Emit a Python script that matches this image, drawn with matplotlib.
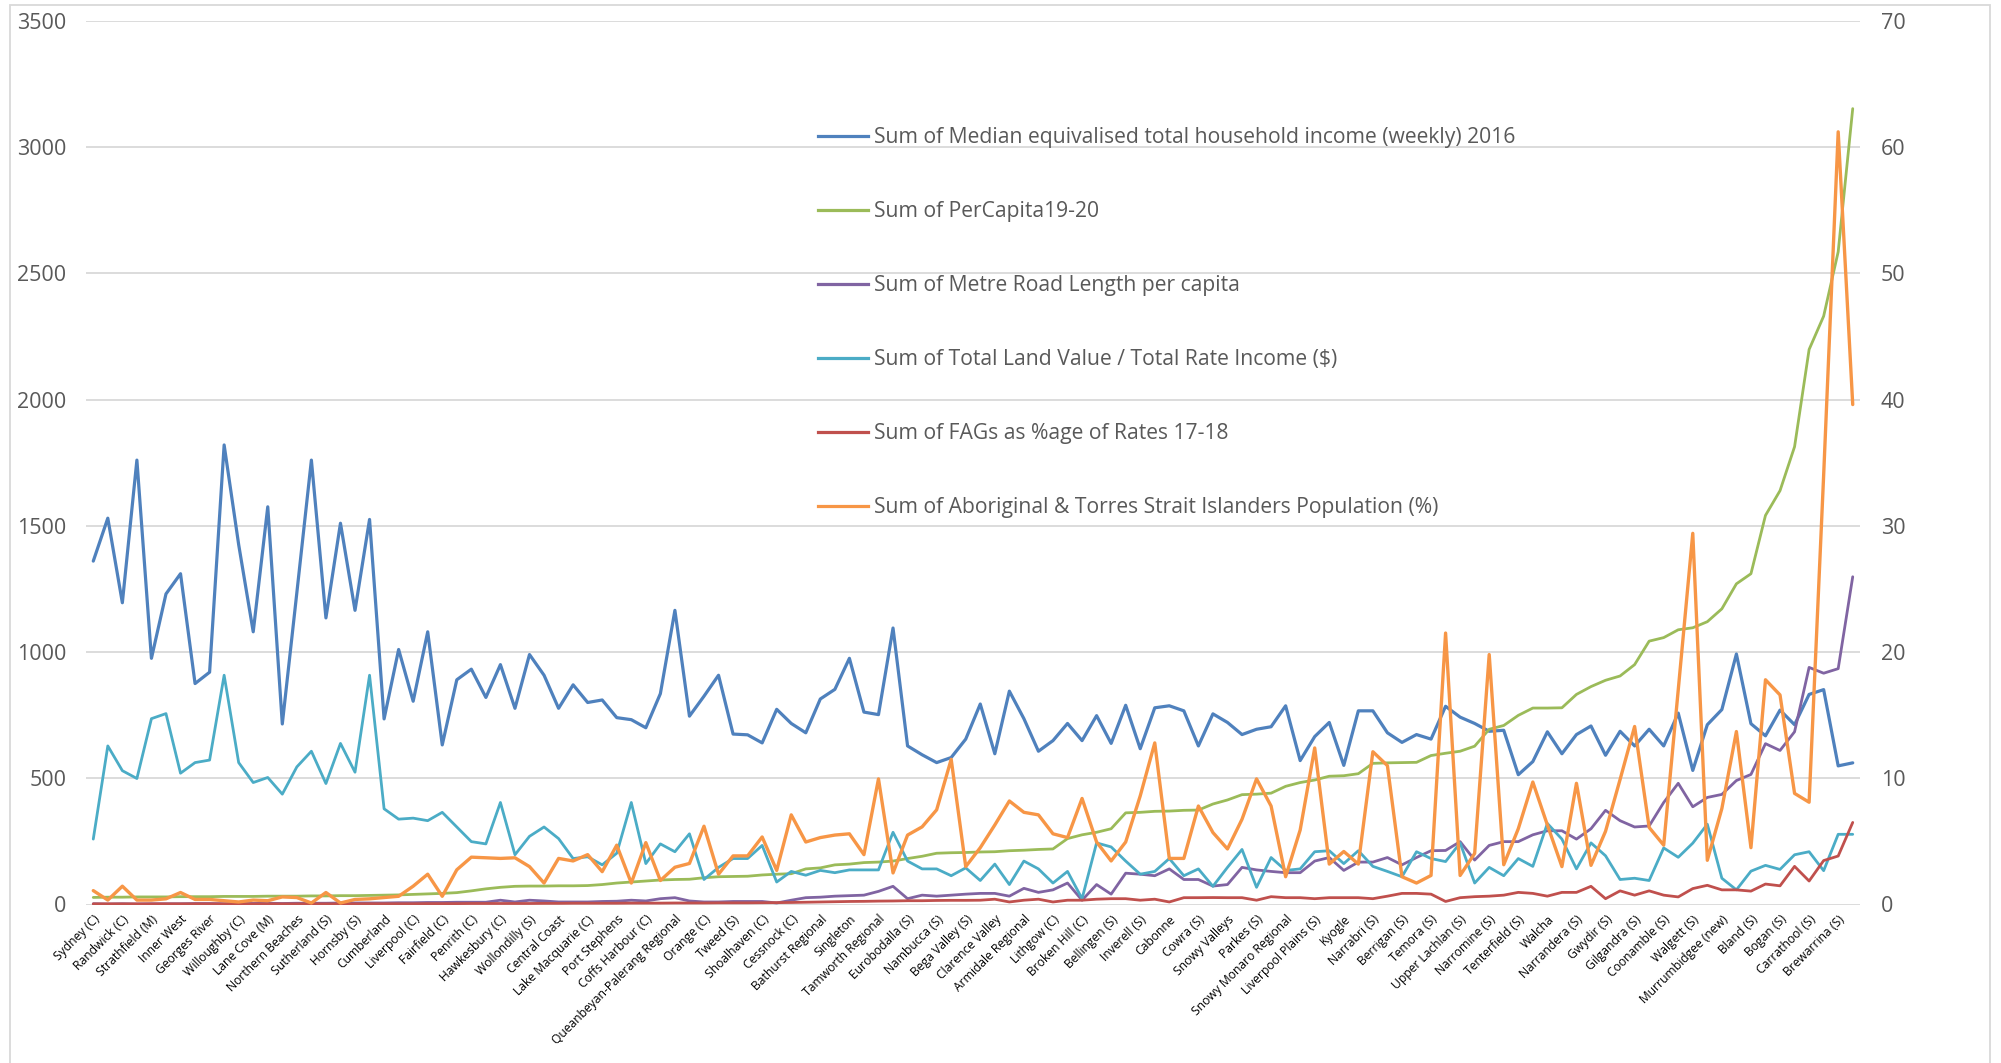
import numpy as np
import matplotlib
matplotlib.use("Agg")
import matplotlib.pyplot as plt
from matplotlib.lines import Line2D
from matplotlib.patches import Rectangle

plt.rcParams['font.family'] = ['Open Sans', 'DejaVu Sans']

# Councils labelled on the category axis (every second council is labelled)
council_labels = [
    "Sydney (C)", "Randwick (C)", "Strathfield (M)", "Inner West", "Georges River",
    "Willoughby (C)", "Lane Cove (M)", "Northern Beaches", "Sutherland (S)", "Hornsby (S)",
    "Cumberland", "Liverpool (C)", "Fairfield (C)", "Penrith (C)", "Hawkesbury (C)",
    "Wollondilly (S)", "Central Coast", "Lake Macquarie (C)", "Port Stephens",
    "Coffs Harbour (C)", "Queanbeyan-Palerang Regional", "Orange (C)", "Tweed (S)",
    "Shoalhaven (C)", "Cessnock (C)", "Bathurst Regional", "Singleton", "Tamworth Regional",
    "Eurobodalla (S)", "Nambucca (S)", "Bega Valley (S)", "Clarence Valley",
    "Armidale Regional", "Lithgow (C)", "Broken Hill (C)", "Bellingen (S)", "Inverell (S)",
    "Cabonne", "Cowra (S)", "Snowy Valleys", "Parkes (S)", "Snowy Monaro Regional",
    "Liverpool Plains (S)", "Kyogle", "Narrabri (S)", "Berrigan (S)", "Temora (S)",
    "Upper Lachlan (S)", "Narromine (S)", "Tenterfield (S)", "Walcha", "Narrandera (S)",
    "Gwydir (S)", "Gilgandra (S)", "Coonamble (S)", "Walgett (S)", "Murrumbidgee (new)",
    "Bland (S)", "Bogan (S)", "Carrathool (S)", "Brewarrina (S)",
]

# Primary axis series
median_income = [
    1360, 1530, 1195, 1760, 975, 1230, 1310, 875, 920, 1820,
    1425, 1080, 1575, 715, 1235, 1760, 1135, 1510, 1165, 1525,
    735, 1010, 805, 1080, 632, 890, 932, 820, 950, 777,
    990, 908, 777, 870, 800, 810, 740, 732, 700, 835,
    1165, 746, 825, 908, 675, 672, 640, 773, 717, 680,
    814, 852, 975, 762, 752, 1095, 628, 593, 562, 582,
    655, 794, 597, 845, 736, 607, 649, 717, 649, 748,
    638, 789, 617, 779, 787, 767, 628, 755, 721, 673,
    694, 704, 787, 570, 665, 721, 551, 767, 767, 680,
    642, 673, 655, 785, 742, 717, 686, 690, 514, 566,
    684, 597, 673, 707, 591, 686, 628, 694, 628, 758,
    531, 712, 772, 992, 716, 668, 770, 712, 832, 851,
    549, 561,
]

per_capita = [
    28, 29, 29, 30, 30, 30, 31, 31, 31, 32,
    32, 32, 33, 33, 33, 34, 34, 35, 35, 36,
    37, 38, 40, 42, 44, 47, 54, 62, 68, 72,
    73, 73, 74, 74, 75, 79, 85, 89, 93, 97,
    99, 100, 106, 110, 111, 112, 117, 120, 122, 141,
    145, 157, 160, 166, 168, 172, 182, 191, 203, 205,
    206, 208, 209, 213, 215, 218, 220, 261, 276, 286,
    300, 363, 365, 369, 370, 373, 374, 398, 414, 435,
    437, 441, 468, 483, 493, 508, 510, 518, 559, 561,
    562, 563, 590, 599, 607, 627, 694, 709, 749, 778,
    778, 779, 832, 863, 888, 905, 950, 1043, 1057, 1088,
    1096, 1120, 1171, 1270, 1310, 1541, 1639, 1813, 2198, 2330,
    2585, 3152,
]

road_length = [
    3, 2, 3, 2, 3, 3, 3, 4, 4, 3,
    4, 4, 5, 4, 5, 5, 5, 6, 6, 6,
    6, 7, 7, 8, 8, 9, 9, 9, 17, 10,
    17, 14, 10, 10, 10, 12, 13, 17, 14, 23,
    27, 14, 10, 10, 12, 12, 12, 6, 17, 27,
    29, 33, 35, 37, 52, 72, 23, 37, 33, 37,
    41, 44, 44, 33, 64, 48, 58, 85, 17, 79,
    41, 124, 120, 114, 141, 99, 99, 73, 79, 147,
    137, 131, 126, 126, 172, 186, 135, 168, 168, 186,
    157, 186, 213, 214, 249, 176, 234, 249, 249, 276,
    292, 292, 259, 300, 373, 332, 307, 311, 404, 480,
    387, 424, 436, 491, 515, 637, 610, 684, 939, 916,
    934, 1298,
]

land_value_ratio = [
    259, 628, 530, 499, 736, 756, 520, 562, 572, 908,
    562, 483, 503, 437, 545, 607, 479, 638, 524, 908,
    379, 338, 342, 332, 365, 307, 249, 240, 404, 197,
    270, 307, 261, 182, 189, 157, 203, 404, 162, 240,
    209, 280, 99, 147, 182, 182, 234, 89, 131, 116,
    135, 126, 137, 137, 137, 286, 172, 141, 141, 114,
    145, 95, 160, 79, 172, 141, 85, 131, 23, 244,
    228, 172, 120, 131, 182, 114, 141, 72, 147, 218,
    68, 186, 135, 141, 209, 213, 162, 213, 151, 131,
    110, 209, 182, 170, 244, 85, 147, 114, 182, 151,
    321, 259, 141, 244, 193, 99, 104, 95, 224, 187,
    243, 318, 104, 58, 132, 155, 139, 197, 209, 134,
    278, 278,
]

# Secondary axis series
fags_pct = [
    0.05, 0.05, 0.05, 0.05, 0.05, 0.05, 0.05, 0.05, 0.05, 0.05,
    0.05, 0.05, 0.05, 0.05, 0.05, 0.05, 0.05, 0.05, 0.05, 0.06,
    0.06, 0.06, 0.06, 0.07, 0.07, 0.07, 0.08, 0.08, 0.08, 0.08,
    0.08, 0.09, 0.09, 0.1, 0.1, 0.1, 0.1, 0.11, 0.11, 0.11,
    0.12, 0.12, 0.12, 0.13, 0.13, 0.13, 0.14, 0.15, 0.16, 0.18,
    0.2, 0.22, 0.24, 0.25, 0.27, 0.28, 0.3, 0.3, 0.32, 0.33,
    0.33, 0.34, 0.42, 0.2, 0.34, 0.42, 0.2, 0.34, 0.34, 0.42,
    0.46, 0.46, 0.34, 0.42, 0.2, 0.54, 0.54, 0.55, 0.54, 0.54,
    0.34, 0.62, 0.54, 0.54, 0.46, 0.54, 0.54, 0.54, 0.46, 0.66,
    0.88, 0.88, 0.82, 0.24, 0.54, 0.62, 0.66, 0.74, 0.96, 0.88,
    0.66, 0.96, 0.96, 1.44, 0.46, 1.08, 0.74, 1.08, 0.74, 0.6,
    1.26, 1.52, 1.16, 1.16, 1.06, 1.62, 1.48, 3.02, 1.86, 3.48,
    3.84, 6.5,
]

aboriginal_pct = [
    1.1, 0.35, 1.45, 0.35, 0.35, 0.45, 0.95, 0.4, 0.4, 0.3,
    0.2, 0.35, 0.3, 0.6, 0.55, 0.12, 0.95, 0.12, 0.4, 0.45,
    0.55, 0.65, 1.45, 2.4, 0.65, 2.75, 3.75, 3.7, 3.65, 3.7,
    3.0, 1.7, 3.65, 3.45, 3.95, 2.6, 4.7, 1.7, 4.9, 1.9,
    2.95, 3.25, 6.2, 2.4, 3.85, 3.85, 5.35, 2.7, 7.1, 4.95,
    5.3, 5.5, 5.6, 3.95, 9.95, 2.5, 5.5, 6.15, 7.5, 11.5,
    3.0, 4.5, 6.3, 8.2, 7.3, 7.1, 5.6, 5.3, 8.4, 4.95,
    3.45, 4.95, 8.6, 12.8, 3.65, 3.65, 7.8, 5.7, 4.4, 6.75,
    9.95, 7.8, 2.2, 5.9, 12.4, 3.2, 4.2, 3.2, 12.1, 11.0,
    2.2, 1.7, 2.3, 21.5, 2.3, 4.05, 19.8, 3.15, 6.0, 9.7,
    6.3, 3.0, 9.6, 3.1, 5.8, 9.9, 14.1, 6.1, 4.7, 17.0,
    29.4, 3.5, 7.6, 13.7, 4.5, 17.8, 16.6, 8.8, 8.1, 34.0,
    61.2, 39.6,
]

series_names = [
    "Sum of Median equivalised total household income (weekly) 2016",
    "Sum of PerCapita19-20",
    "Sum of Metre Road Length per capita",
    "Sum of Total Land Value / Total Rate Income ($)",
    "Sum of FAGs as %age of Rates 17-18",
    "Sum of Aboriginal & Torres Strait Islanders Population (%)",
]
c_blue, c_green, c_purple = "#4F81BD", "#9BBB59", "#8064A2"
c_cyan, c_red, c_orange = "#4BACC6", "#C0504D", "#F79646"
grid_c = "#D9D9D9"
tick_c = "#595959"

W, H = 2001, 1063
fig = plt.figure(figsize=(W / 100, H / 100), dpi=100)
ax = fig.add_axes([86 / W, 1 - 904.5 / H, (1860 - 86) / W, (904.5 - 20.75) / H])
ax2 = ax.twinx()

x = np.arange(len(median_income))
kw = dict(solid_joinstyle="round", solid_capstyle="round")
ax.plot(x, median_income, color=c_blue, lw=2.3, **kw)
ax.plot(x, per_capita, color=c_green, lw=2.0, **kw)
ax.plot(x, road_length, color=c_purple, lw=2.0, **kw)
ax.plot(x, land_value_ratio, color=c_cyan, lw=2.0, **kw)
ax2.plot(x, fags_pct, color=c_red, lw=2.0, **kw)
ax2.plot(x, aboriginal_pct, color=c_orange, lw=2.4, **kw)

ax.set_xlim(-0.5, len(x) - 0.5)
ax.set_ylim(0, 3500)
ax2.set_ylim(0, 70)
ax.set_yticks(np.arange(0, 3501, 500))
ax2.set_yticks(np.arange(0, 71, 10))
ax.grid(axis="y", color=grid_c, lw=1.3)
ax.set_axisbelow(True)

for a in (ax, ax2):
    for s in a.spines.values():
        s.set_visible(False)
ax.tick_params(axis="y", length=0, pad=14, labelsize=15.5, labelcolor=tick_c)
ax2.tick_params(axis="y", length=0, pad=15, labelsize=15.5, labelcolor=tick_c)

ax.set_xticks(x[::2])
ax.set_xticklabels(council_labels, rotation=45, ha="right", va="top",
                   rotation_mode="anchor", fontsize=8.7, color="black")
ax.tick_params(axis="x", length=0, pad=6)

leg_fs = 15.25
fs_px = leg_fs * 100 / 72
handles = [Line2D([0], [0], color=c, lw=2.3)
           for c in (c_blue, c_green, c_purple, c_cyan, c_red, c_orange)]
leg = ax.legend(handles, series_names, loc="upper left",
                bbox_to_anchor=(818 / W, 1 - 127.5 / H), bbox_transform=fig.transFigure,
                frameon=False, fontsize=leg_fs, handlelength=50 / fs_px,
                handletextpad=6 / fs_px, labelspacing=2.5, borderpad=0, borderaxespad=0)
for t in leg.get_texts():
    t.set_color(tick_c)

# chart area border
fig.patches.append(Rectangle((10 / W, -0.05), 1980 / W, 1.05 - 5 / H,
                             transform=fig.transFigure, fill=False,
                             edgecolor=grid_c, lw=1.3))

fig.savefig("out.png", dpi=100)
